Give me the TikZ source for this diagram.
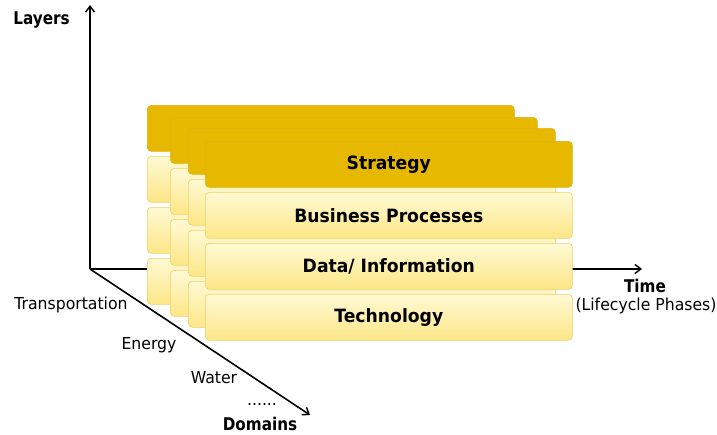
\documentclass[tikz,border=0pt]{standalone}
\usepackage{fontspec}
\setmainfont{DejaVu Sans}
\newfontfamily\boxfont[FakeStretch=0.94]{DejaVu Sans}
\newfontfamily\labfont[FakeStretch=0.95]{DejaVu Sans}
\newfontfamily\blabfont[FakeStretch=0.87]{DejaVu Sans}
\usetikzlibrary{arrows.meta}
\definecolor{gold}{RGB}{230,185,0}
\definecolor{goldline}{RGB}{222,178,20}
\definecolor{ltop}{RGB}{255,250,212}
\definecolor{lbot}{RGB}{253,230,135}
\definecolor{lline}{RGB}{238,208,105}
\tikzset{
  layerbox/.style={rounded corners=4pt, minimum width=367pt, minimum height=46pt, inner sep=0pt, anchor=north west,
    font=\boxfont\fontsize{18.3}{21}\selectfont\bfseries, line width=0.6pt},
  strat/.style={layerbox, fill=gold, draw=goldline},
  yel/.style={layerbox, top color=ltop, bottom color=lbot, draw=lline},
  axis/.style={line width=1.6pt, -{Straight Barb[length=6pt,width=9pt,line width=1.4pt]}},
  blab/.style={inner sep=0pt, font=\blabfont\fontsize{17.5}{20}\selectfont\bfseries},
  rlab/.style={inner sep=0pt, font=\labfont\fontsize{16.5}{19}\selectfont},
}
\begin{document}
\begin{tikzpicture}[x=1pt,y=-1pt]
\useasboundingbox (0,0) rectangle (717,434);
\coordinate (o) at (90,269);
\coordinate (ytip) at (90,5);
\coordinate (xtip) at (642,269);
\coordinate (ztip) at (310,415);
\draw[axis] (o) -- (ytip);
\draw[axis] (o) -- (xtip);
\draw[axis] (o) -- (ztip);
% back stacks
\foreach \L/\T/\n in {147/105/a,170/117/b,188/128/c}{
  \node[strat] (s\n) at (\L,\T) {};
  \node[yel] (b\n) at (\L,\T+51) {};
  \node[yel] (d\n) at (\L,\T+102) {};
  \node[yel] (t\n) at (\L,\T+153) {};
}
% front stack
\node[strat] (sd) at (205,141) {Strategy};
\node[yel] (bd) at (205,192) {Business Processes};
\node[yel] (dd) at (205,243) {Data/ Information};
\node[yel] (td) at (205,294) {Technology};
% labels
\node[blab] (layers) at (41.5,20) {Layers};
\node[blab] (time) at (645,286) {Time};
\node[rlab] (life) at (646,306) {(Lifecycle Phases)};
\node[rlab] (trans) at (71,305) {Transportation};
\node[rlab] (energy) at (149,345) {Energy};
\node[rlab] (water) at (214,378) {Water};
\node[rlab] (dots) at (262,404) {......};
\node[blab] (domains) at (260,424) {Domains};
\end{tikzpicture}
\end{document}
